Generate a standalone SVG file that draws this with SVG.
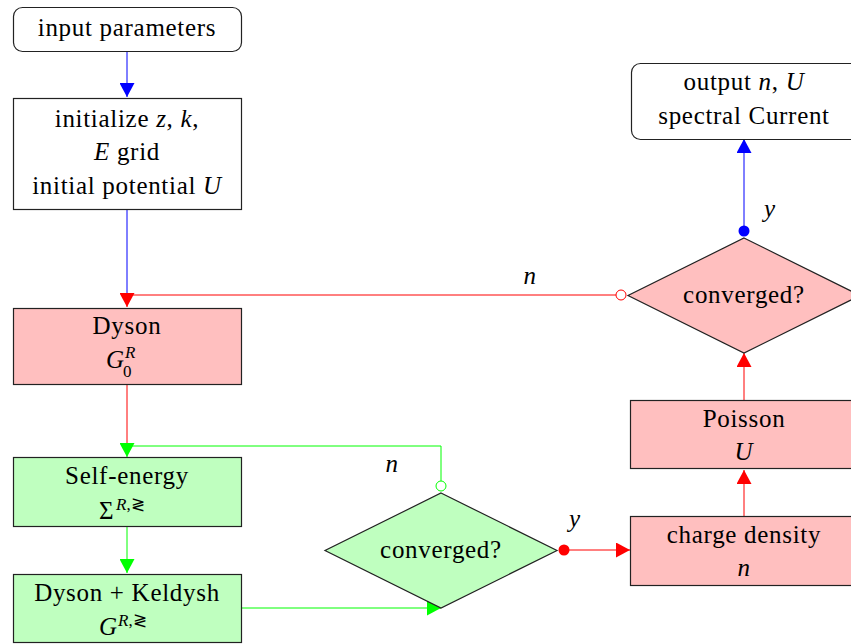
<svg xmlns="http://www.w3.org/2000/svg" width="851" height="644" viewBox="0 0 851 644">
<defs>
<style>
text{font-family:"Liberation Serif","Times New Roman",serif;font-size:25px;fill:#000;letter-spacing:0.7px}
.c{text-anchor:middle}
.i{font-style:italic}
.s{font-size:17px;letter-spacing:0}
.box{stroke:#222;stroke-width:1.2}
.white{fill:#fff}
.red{fill:#ffbfbf}
.green{fill:#bfffbf}
.lr{stroke:#ff0000;fill:none;stroke-width:1}
.lg{stroke:#00ff00;fill:none;stroke-width:1}
.lb{stroke:#0000ff;fill:none;stroke-width:1}
</style>
<marker id="ar" markerUnits="userSpaceOnUse" markerWidth="14" markerHeight="15" refX="14" refY="7.5" orient="auto"><path d="M0,0 L14,7.5 L0,15 z" fill="#ff0000"/></marker>
<marker id="ag" markerUnits="userSpaceOnUse" markerWidth="14" markerHeight="15" refX="14" refY="7.5" orient="auto"><path d="M0,0 L14,7.5 L0,15 z" fill="#00ff00"/></marker>
<marker id="ab" markerUnits="userSpaceOnUse" markerWidth="14" markerHeight="15" refX="14" refY="7.5" orient="auto"><path d="M0,0 L14,7.5 L0,15 z" fill="#0000ff"/></marker>
</defs>
<rect width="851" height="644" fill="#fff"/>

<g id="connectors">
<path class="lb" d="M127,52 V97" marker-end="url(#ab)"/>
<path class="lb" d="M127,209 V295"/>
<path class="lr" d="M616,295 H127 V307" marker-end="url(#ar)"/>
<path class="lr" d="M127,385 V446"/>
<path class="lg" d="M441,481 V446 H127 V457" marker-end="url(#ag)"/>
<path class="lg" d="M127,527 V573" marker-end="url(#ag)"/>
<path class="lg" d="M241,608 H441" marker-end="url(#ag)"/>
<path class="lr" d="M569,550 H630" marker-end="url(#ar)"/>
<path class="lr" d="M744,516 V470" marker-end="url(#ar)"/>
<path class="lr" d="M744,400 V353" marker-end="url(#ar)"/>
<path class="lb" d="M744,226 V139" marker-end="url(#ab)"/>
<circle cx="621" cy="295" r="5" fill="#fff" stroke="#ff0000" stroke-width="1"/>
<circle cx="441" cy="486" r="5" fill="#fff" stroke="#00ff00" stroke-width="1"/>
<circle cx="564" cy="550" r="5.5" fill="#ff0000"/>
<circle cx="744" cy="231" r="5.5" fill="#0000ff"/>
<text class="c i" x="530" y="284">n</text>
<text class="c i" x="392" y="472">n</text>
<text class="c i" x="575" y="527">y</text>
<text class="c i" x="770" y="217">y</text>
</g>

<g id="input">
<rect class="box white" x="13.5" y="7.5" width="228" height="44" rx="9"/>
<text class="c" x="127" y="36">input parameters</text>
</g>

<g id="init">
<rect class="box white" x="13.5" y="98.5" width="228" height="111"/>
<text class="c" x="127" y="127">initialize <tspan class="i">z</tspan>, <tspan class="i">k</tspan>,</text>
<text class="c" x="127" y="160"><tspan class="i">E</tspan> grid</text>
<text class="c" x="127" y="194">initial potential <tspan class="i">U</tspan></text>
</g>

<g id="dyson">
<rect class="box red" x="13.5" y="308.5" width="228" height="76"/>
<text class="c" x="127" y="334">Dyson</text>
<text class="i" x="106" y="368" style="letter-spacing:0">G</text>
<text class="i s" x="125" y="358">R</text>
<text class="s" x="123" y="377">0</text>
</g>

<g id="selfenergy">
<rect class="box green" x="13.5" y="457.5" width="228" height="69"/>
<text class="c" x="127" y="484">Self-energy</text>
<text x="99" y="519" style="letter-spacing:0">Σ</text>
<text class="s" x="116" y="510"><tspan class="i">R</tspan>,≷</text>
</g>

<g id="dysonkeldysh">
<rect class="box green" x="13.5" y="574.5" width="228" height="68"/>
<text class="c" x="127" y="601">Dyson + Keldysh</text>
<text class="i" x="99" y="635" style="letter-spacing:0">G</text>
<text class="s" x="118" y="626"><tspan class="i">R</tspan>,≷</text>
</g>

<g id="converged1">
<polygon class="box green" points="441,493 557,550.5 441,608 325,550.5"/>
<text class="c" x="441" y="558">converged?</text>
</g>

<g id="chargedensity">
<rect class="box red" x="630.5" y="516.5" width="228" height="69"/>
<text class="c" x="744" y="543">charge density</text>
<text class="c i" x="744" y="576">n</text>
</g>

<g id="poisson">
<rect class="box red" x="630.5" y="400.5" width="228" height="68"/>
<text class="c" x="744" y="427">Poisson</text>
<text class="c i" x="744" y="460">U</text>
</g>

<g id="converged2">
<polygon class="box red" points="744,238 860,295.5 744,353 628,295.5"/>
<text class="c" x="744" y="303">converged?</text>
</g>

<g id="output">
<rect class="box white" x="631.5" y="63.5" width="228" height="76" rx="9"/>
<text class="c" x="744" y="90">output <tspan class="i">n</tspan>, <tspan class="i">U</tspan></text>
<text class="c" x="744" y="124">spectral Current</text>
</g>
</svg>
